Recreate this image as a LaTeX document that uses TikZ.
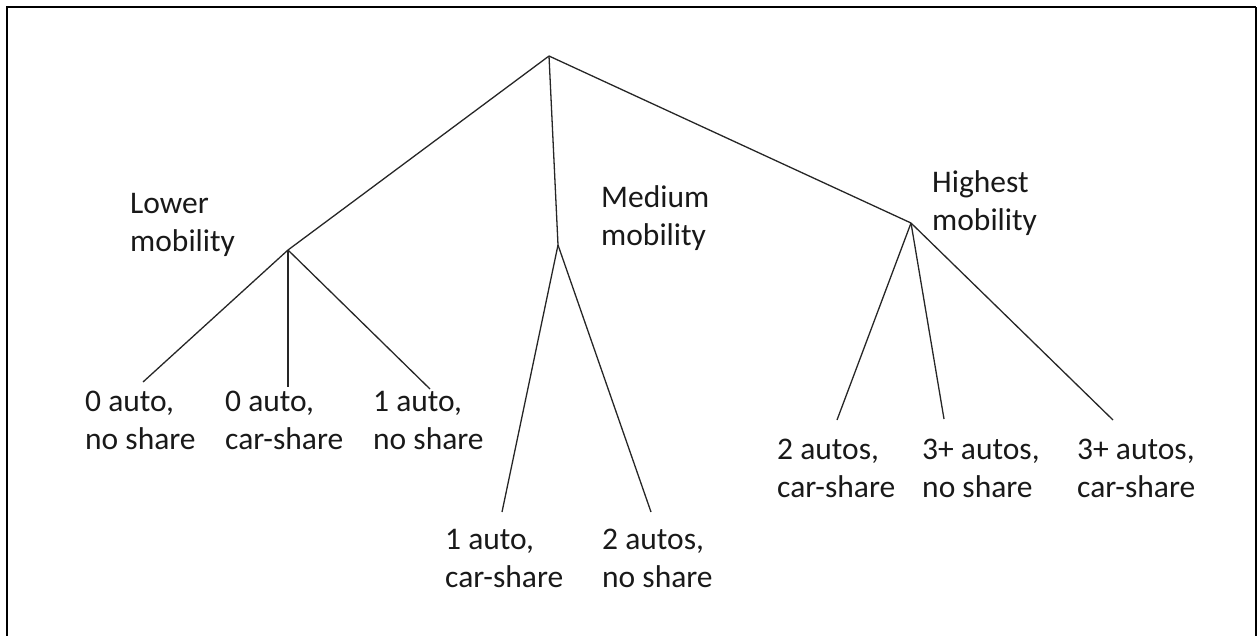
\documentclass[tikz,border=0pt]{standalone}
\usepackage{fontspec}
\setmainfont{Carlito}
\begin{document}
\begin{tikzpicture}[x=1pt,y=-1pt,
  branch/.style={draw=black!85,line width=1.3pt},
  lbl/.style={anchor=base west,inner sep=0pt,text=black!90,
    font=\fontsize{31.5}{38}\selectfont},
  frame/.style={draw=black,line width=2.2pt}]
\useasboundingbox (0,0) rectangle (1257,635);
% frame (bottom edge lies outside the picture)
\draw[frame] (7,640) -- (7,7) -- (1256,7);
\draw[draw=black,line width=1.5pt] (1256,7) -- (1256,640);
% branch points
\coordinate (root) at (549,56);
\coordinate (low) at (288,250);
\coordinate (med) at (558,245);
\coordinate (high) at (911,223);
% leaf line ends
\coordinate (l1) at (143,382);
\coordinate (l2) at (288,387);
\coordinate (l3) at (430,389);
\coordinate (m1) at (502,512);
\coordinate (m2) at (651,512);
\coordinate (h1) at (837,420);
\coordinate (h2) at (944,419);
\coordinate (h3) at (1113,420);
% connectors
\draw[branch] (root) -- (low);
\draw[branch] (root) -- (med);
\draw[branch] (root) -- (high);
\draw[branch] (low) -- (l1);
\draw[branch] (low) -- (l2);
\draw[branch] (low) -- (l3);
\draw[branch] (med) -- (m1);
\draw[branch] (med) -- (m2);
\draw[branch] (high) -- (h1);
\draw[branch] (high) -- (h2);
\draw[branch] (high) -- (h3);
% group labels
\node[lbl] (tlow) at (130,213) {\begin{tabular}[t]{@{}l@{}}Lower\\mobility\end{tabular}};
\node[lbl] (tmed) at (601,207) {\begin{tabular}[t]{@{}l@{}}Medium\\mobility\end{tabular}};
\node[lbl] (thigh) at (932,192) {\begin{tabular}[t]{@{}l@{}}Highest\\mobility\end{tabular}};
% leaf labels
\node[lbl] (tl1) at (85,411) {\begin{tabular}[t]{@{}l@{}}0 auto,\\no share\end{tabular}};
\node[lbl] (tl2) at (225,411) {\begin{tabular}[t]{@{}l@{}}0 auto,\\car-share\end{tabular}};
\node[lbl] (tl3) at (373,411) {\begin{tabular}[t]{@{}l@{}}1 auto,\\no share\end{tabular}};
\node[lbl] (tm1) at (445,549) {\begin{tabular}[t]{@{}l@{}}1 auto,\\car-share\end{tabular}};
\node[lbl] (tm2) at (602,549) {\begin{tabular}[t]{@{}l@{}}2 autos,\\no share\end{tabular}};
\node[lbl] (th1) at (777,459) {\begin{tabular}[t]{@{}l@{}}2 autos,\\car-share\end{tabular}};
\node[lbl] (th2) at (922,459) {\begin{tabular}[t]{@{}l@{}}3+ autos,\\no share\end{tabular}};
\node[lbl] (th3) at (1077,459) {\begin{tabular}[t]{@{}l@{}}3+ autos,\\car-share\end{tabular}};
\end{tikzpicture}
\end{document}
